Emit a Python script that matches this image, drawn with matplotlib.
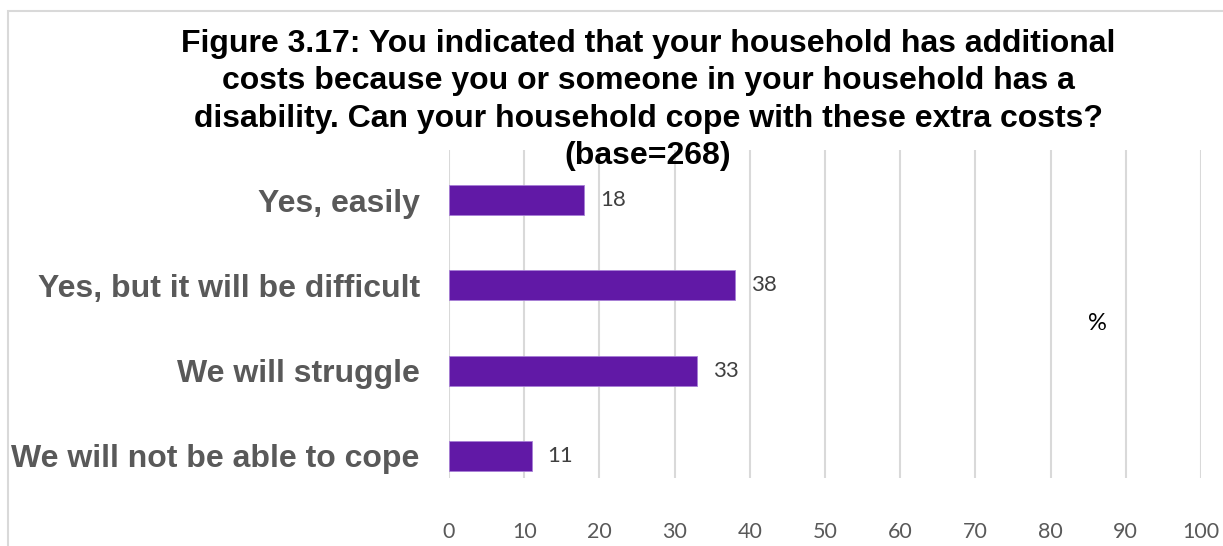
import matplotlib.pyplot as plt
from matplotlib.patches import Rectangle

# data
categories = ['Yes, easily', 'Yes, but it will be difficult', 'We will struggle', 'We will not be able to cope']
values = [18, 38, 33, 11]
xticks = [0, 10, 20, 30, 40, 50, 60, 70, 80, 90, 100]

title = ('Figure 3.17: You indicated that your household has additional\n'
         'costs because you or someone in your household has a\n'
         'disability. Can your household cope with these extra costs?\n'
         '(base=268)')

fig = plt.figure(figsize=(12.23, 5.46), dpi=100)
ax = fig.add_axes([449 / 1223, 1 - 478 / 546, 752 / 1223, 328 / 546])

# chart frame
fig.patches.append(Rectangle((8 / 1223, -0.1), 1.2, 1 - 11 / 546 + 0.1, transform=fig.transFigure,
                             fill=False, edgecolor='#D9D9D9', linewidth=1.5))

pos = list(range(len(categories)))
bars = ax.barh(pos, values, height=0.35, color='#6119A6', edgecolor='#A77FD6', linewidth=0.6, zorder=3)

for p, v in zip(pos, values):
    ax.text(v + 2.1, p, str(v), va='center', ha='left', fontsize=16, color='#404040', family='Lato')

ax.set_xlim(0, 100)
ax.set_ylim(3 + 22 / 85.3, -50 / 85.3)
ax.set_xticks(xticks)
ax.set_xticklabels([str(t) for t in xticks], fontsize=15.5, color='#595959', family='Lato')
ax.set_yticks(pos)
ax.set_yticklabels(categories, fontsize=23, fontweight='bold', color='#595959', family='Liberation Sans')
ax.tick_params(axis='x', length=0, pad=32)
ax.tick_params(axis='y', length=0, pad=21)
ax.grid(axis='x', color='#D9D9D9', linewidth=1.5, zorder=0)
for s in ax.spines.values():
    s.set_visible(False)

fig.text(648 / 1223, 1 - 100 / 546, title, ha='center', va='center', fontsize=23, fontweight='bold',
         family='Liberation Sans', linespacing=1.31)
fig.text(1097 / 1223, 1 - 323 / 546, '%', ha='center', va='center', fontsize=17, family='Lato')

fig.savefig('out.png', dpi=100)
